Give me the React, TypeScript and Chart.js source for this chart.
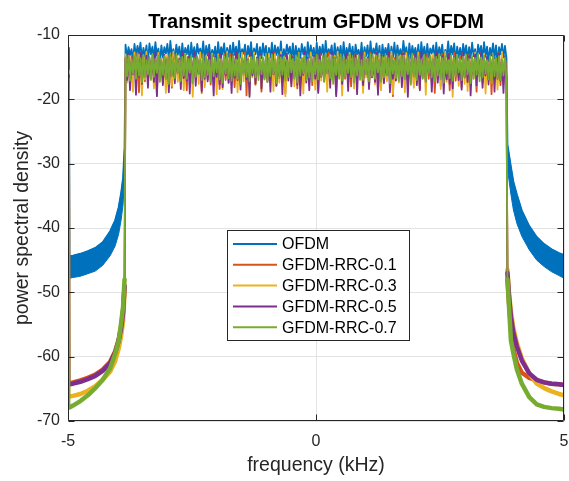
import { useEffect, useRef } from 'react';
import { Chart, registerables } from 'chart.js';

Chart.register(...registerables);

const FONT = '"Liberation Sans", Arial, Helvetica, sans-serif';
const AXIS_COLOR = '#262626';

const seriesNames = ['OFDM', 'GFDM-RRC-0.1', 'GFDM-RRC-0.3', 'GFDM-RRC-0.5', 'GFDM-RRC-0.7'];
const seriesColors = ['#0072BD', '#D95319', '#EDB120', '#7E2F8E', '#77AC30'];

const xTicks = [-5, 0, 5];
const yTicks = [-70, -60, -50, -40, -30, -20, -10];

// first FFT bin at the left edge of the spectrum (kHz) and its level per series (dB)
const edgeFreq = -4.98;
const edgeLevel = [-12.0, -15.8, -15.5, -16.2, -16.8];

// out-of-band frequencies (kHz)
const skirtFreqLeft = [-4.97, -4.9, -4.75, -4.6, -4.45, -4.3, -4.15, -4.05, -3.98, -3.93, -3.89, -3.86];
const skirtFreqRight = [3.86, 3.89, 3.93, 3.98, 4.05, 4.15, 4.3, 4.45, 4.6, 4.75, 4.9, 5.0];

// OFDM sidelobes: upper and lower envelope of the ripple (dB)
const ofdmHiLeft = [-44.4, -44.3, -44.0, -43.6, -43.1, -42.2, -40.5, -38.8, -36.8, -34.6, -32.2, -27.5];
const ofdmLoLeft = [-47.8, -47.7, -47.5, -47.1, -46.7, -45.8, -44.3, -42.8, -41.0, -38.8, -36.4, -32.0];
const ofdmHiRight = [-27.0, -28.5, -30.5, -32.8, -34.8, -37.3, -39.7, -41.4, -42.5, -43.3, -43.9, -44.2];
const ofdmLoRight = [-31.0, -32.5, -34.8, -37.2, -39.3, -41.3, -43.4, -45.0, -46.0, -46.8, -47.4, -47.8];

// GFDM out-of-band leakage (dB)
const rrc01Left = [-64.1, -64.0, -63.7, -63.3, -62.8, -62.0, -60.8, -59.2, -57.4, -55.4, -53.0, -49.0];
const rrc03Left = [-66.2, -66.1, -65.8, -65.3, -64.6, -63.6, -62.3, -60.7, -58.8, -56.8, -54.5, -50.0];
const rrc05Left = [-64.3, -64.2, -63.9, -63.5, -63.0, -62.2, -61.0, -59.4, -57.6, -55.6, -53.2, -49.0];
const rrc07Left = [-67.9, -67.6, -66.9, -66.0, -64.9, -63.6, -61.8, -59.6, -57.6, -54.8, -52.3, -48.0];
const rrc01Right = [-48.0, -51.5, -55.5, -58.8, -61.0, -62.5, -63.3, -63.7, -64.0, -64.2, -64.3, -64.4];
const rrc03Right = [-46.5, -50.0, -53.0, -55.6, -57.9, -60.3, -62.6, -64.2, -64.9, -65.4, -65.8, -66.0];
const rrc05Right = [-47.0, -50.5, -53.8, -56.3, -58.4, -60.6, -62.6, -63.6, -64.0, -64.2, -64.3, -64.4];
const rrc07Right = [-48.0, -52.0, -57.5, -59.5, -62.0, -64.2, -66.3, -67.4, -67.8, -68.0, -68.1, -68.2];

// occupied band edges (kHz); the bins inside are evenly spaced
const bandStart = -3.84;
const bandEnd = 3.84;

// in-band PSD per bin (dB)
const ofdmBand = [
  -11.5, -13.6, -11.9, -13.1, -12.2, -14.0, -11.4, -13.3, -11.7, -12.9, -11.2, -13.8, -12.0, -13.4, -11.6, -14.2,
  -11.3, -13.0, -11.8, -13.7, -11.1, -13.2, -12.1, -14.3, -11.6, -13.5, -11.9, -12.9, -11.4, -13.9, -10.9, -13.3,
  -12.2, -13.8, -11.5, -13.1, -11.8, -14.1, -11.3, -13.6, -12.0, -13.0, -11.6, -14.4, -11.2, -13.4, -11.9, -13.7,
  -11.4, -12.9, -12.1, -13.5, -11.0, -14.0, -11.7, -13.2, -11.5, -13.8, -12.3, -13.3, -11.8, -14.2, -11.1, -13.6,
  -11.9, -13.0, -11.3, -13.9, -12.0, -13.4, -11.6, -14.1, -11.2, -13.1, -11.8, -13.7, -10.9, -13.5, -12.2, -12.9,
  -11.5, -14.3, -11.7, -13.3, -11.1, -13.8, -12.1, -13.0, -11.4, -14.0, -11.9, -13.6, -11.3, -13.2, -11.7, -14.4,
  -12.0, -13.5, -11.2, -13.9, -11.6, -13.1, -11.9, -13.7, -11.0, -14.2, -12.2, -13.3, -11.5, -12.9, -11.8, -13.8,
  -11.3, -14.0, -11.7, -13.4, -12.1, -13.6, -11.4, -13.0, -11.9, -14.3, -11.1, -13.5, -11.6, -13.2, -12.0, -14.1,
  -11.2, -13.7, -11.8, -13.1, -11.5, -13.9, -10.9, -13.4, -12.2, -12.9, -11.6, -14.4, -11.3, -13.6, -11.9, -13.3,
  -11.7, -14.0, -11.1, -13.8, -12.0, -13.2, -11.4, -13.5, -11.8, -14.2, -11.5, -13.0, -12.3, -13.7, -11.2, -13.9,
  -11.9, -13.3, -11.6, -14.1, -11.0, -13.6, -12.1, -12.9, -11.3, -13.8, -11.7, -14.3, -11.5, -13.4, -12.0, -13.1,
  -11.4, -13.9, -11.8, -13.5, -11.2, -14.0, -11.6, -13.2, -12.2, -13.7, -10.9, -13.0, -11.9, -14.2, -11.3, -13.6,
  -11.7, -13.1, -12.0, -13.8, -11.5, -14.4, -11.1, -13.3, -11.8, -13.9, -11.4, -13.5, -12.1, -12.9, -11.6, -14.0,
  -11.2, -13.6, -11.9, -13.2, -11.5, -14.1, -12.3, -13.4, -11.0, -13.7, -11.7, -13.0, -11.3, -14.3, -11.8, -13.5,
  -12.0, -13.8, -11.4, -13.1, -11.6, -14.0, -11.9, -13.6, -11.2, -13.3, -12.2, -14.2, -11.5, -12.9, -11.7, -13.9,
  -11.1, -13.4, -11.8, -14.1, -12.0, -13.2, -11.3, -13.7, -11.6, -14.4, -11.9, -13.0, -11.4, -13.5, -11.7, -13.6,
];

const rrc01Band = [
  -13.6, -16.2, -14.1, -17.8, -13.2, -15.9, -13.9, -16.6, -12.8, -18.9, -14.3, -16.0, -13.4, -17.2, -13.7, -15.7,
  -14.0, -16.8, -13.1, -16.3, -13.8, -19.3, -12.9, -16.1, -14.2, -17.5, -13.5, -15.8, -13.3, -16.9, -14.4, -18.2,
  -13.0, -16.4, -13.6, -15.9, -14.1, -17.1, -12.7, -16.7, -13.9, -18.6, -13.4, -16.0, -14.3, -17.4, -13.2, -16.5,
  -13.8, -15.7, -13.0, -19.0, -14.0, -16.2, -13.5, -16.9, -12.8, -17.7, -13.7, -16.1, -14.2, -15.8, -13.3, -18.4,
  -13.9, -16.6, -13.1, -17.0, -14.4, -16.3, -12.9, -15.9, -13.6, -18.1, -14.0, -16.7, -13.2, -17.3, -13.8, -16.0,
  -12.7, -19.4, -13.5, -16.4, -14.1, -15.8, -13.3, -17.6, -13.9, -16.2, -13.0, -18.8, -14.3, -16.5, -13.6, -17.0,
  -13.4, -15.9, -14.2, -16.8, -12.8, -17.9, -13.7, -16.1, -13.1, -16.6, -14.0, -19.1, -13.5, -15.7, -13.9, -17.2,
  -13.2, -16.3, -14.4, -18.3, -13.0, -16.0, -13.6, -17.5, -12.9, -16.9, -13.8, -15.8, -14.1, -17.8, -13.3, -16.4,
  -13.7, -18.7, -13.1, -16.2, -14.3, -16.7, -13.5, -15.9, -12.7, -17.1, -14.0, -16.5, -13.4, -19.2, -13.9, -16.0,
  -13.0, -17.4, -13.8, -16.8, -14.2, -15.7, -13.2, -18.0, -13.6, -16.3, -12.9, -17.0, -14.1, -16.6, -13.5, -18.5,
  -13.3, -16.1, -13.9, -17.7, -12.8, -16.4, -14.4, -15.9, -13.1, -18.9, -13.7, -16.2, -14.0, -17.3, -13.4, -15.8,
  -13.8, -16.9, -13.0, -19.5, -13.6, -16.0, -14.2, -17.2, -13.2, -16.5, -12.7, -18.2, -13.9, -16.7, -14.3, -15.9,
  -13.5, -17.6, -13.1, -16.3, -14.0, -18.4, -13.4, -16.1, -13.7, -17.0, -12.9, -16.8, -14.1, -15.7, -13.3, -19.0,
  -13.9, -16.4, -13.6, -17.9, -13.0, -16.0, -14.4, -16.6, -13.2, -18.6, -13.8, -15.8, -12.8, -17.1, -14.2, -16.5,
  -13.4, -18.1, -13.7, -16.2, -14.0, -17.4, -13.1, -16.9, -13.5, -15.9, -14.3, -18.8, -13.3, -16.3, -12.9, -17.5,
  -13.8, -16.0, -14.1, -17.0, -13.2, -19.2, -13.6, -16.4, -14.0, -16.7, -12.8, -17.8, -13.9, -16.1, -13.5, -16.6,
];

const rrc03Band = [
  -13.0, -17.4, -13.8, -16.1, -14.2, -18.8, -12.7, -16.5, -13.5, -15.8, -14.0, -19.4, -13.2, -16.9, -12.6, -17.7,
  -13.9, -16.2, -13.3, -18.3, -14.3, -15.9, -12.8, -17.1, -13.6, -16.6, -14.1, -19.0, -13.1, -16.0, -13.7, -17.9,
  -12.6, -16.4, -14.4, -17.3, -13.4, -15.7, -13.9, -18.6, -12.9, -16.8, -13.5, -16.1, -14.0, -19.6, -13.2, -16.7,
  -13.8, -17.6, -12.7, -16.3, -14.2, -18.1, -13.3, -15.8, -13.6, -17.0, -12.9, -16.5, -14.1, -19.2, -13.0, -16.2,
  -13.7, -18.4, -13.4, -16.0, -12.6, -17.5, -14.3, -16.7, -13.1, -15.9, -13.9, -18.9, -13.5, -16.4, -12.8, -17.2,
  -14.0, -16.1, -13.2, -19.3, -13.7, -16.6, -12.7, -17.8, -14.4, -15.7, -13.3, -18.2, -13.6, -16.9, -14.1, -17.0,
  -12.9, -16.3, -13.8, -18.7, -13.0, -16.0, -14.2, -17.4, -12.6, -16.5, -13.5, -19.5, -13.9, -15.8, -13.1, -17.6,
  -13.4, -18.0, -14.0, -16.2, -12.8, -16.8, -13.7, -19.1, -13.3, -15.9, -14.3, -17.3, -12.7, -16.6, -13.6, -18.5,
  -14.1, -16.4, -13.0, -17.1, -13.8, -16.0, -12.9, -18.8, -13.5, -16.7, -14.2, -15.8, -13.2, -17.9, -12.6, -16.3,
  -13.9, -19.4, -13.4, -16.1, -14.4, -17.5, -12.8, -16.5, -13.7, -18.3, -13.1, -15.9, -14.0, -17.0, -13.3, -19.0,
  -12.7, -16.6, -13.6, -18.1, -14.1, -16.2, -13.0, -17.7, -13.8, -15.7, -12.9, -18.6, -14.3, -16.8, -13.4, -17.2,
  -13.5, -16.0, -12.6, -19.2, -13.9, -16.4, -14.2, -17.4, -13.2, -15.9, -13.7, -18.9, -12.8, -16.3, -14.0, -17.8,
  -13.1, -18.2, -13.8, -16.1, -12.7, -17.0, -14.4, -16.7, -13.3, -19.3, -13.6, -15.8, -14.1, -17.5, -12.9, -16.5,
  -13.9, -16.9, -13.0, -18.4, -13.5, -16.0, -12.6, -17.3, -14.2, -16.4, -13.4, -19.6, -13.7, -16.2, -13.1, -17.9,
  -14.0, -15.9, -12.8, -17.6, -13.6, -18.7, -13.2, -16.3, -14.3, -16.8, -12.7, -18.0, -13.8, -16.1, -13.3, -17.1,
  -12.9, -19.1, -14.1, -16.6, -13.4, -17.4, -13.0, -15.7, -13.7, -18.5, -14.2, -16.2, -12.6, -17.7, -13.5, -16.4,
];

const rrc05Band = [
  -13.7, -17.0, -12.9, -18.6, -14.2, -16.1, -13.4, -19.3, -13.9, -16.5, -12.8, -17.6, -14.4, -15.9, -13.2, -18.2,
  -13.6, -16.3, -14.0, -17.3, -12.7, -19.5, -13.5, -16.0, -14.1, -17.8, -13.1, -16.6, -13.8, -18.9, -12.9, -16.2,
  -14.3, -17.5, -13.3, -15.8, -13.7, -18.4, -12.6, -16.7, -14.0, -17.1, -13.4, -19.1, -13.9, -16.4, -12.8, -17.9,
  -13.5, -16.0, -14.2, -18.7, -13.0, -16.8, -13.8, -17.2, -12.7, -15.9, -14.4, -19.4, -13.3, -16.5, -13.6, -17.7,
  -12.9, -18.1, -14.1, -16.2, -13.4, -17.4, -13.9, -19.0, -13.1, -16.6, -12.6, -17.0, -14.3, -18.5, -13.7, -15.8,
  -13.2, -16.9, -13.8, -19.6, -12.8, -16.3, -14.0, -17.6, -13.5, -16.0, -13.0, -18.3, -14.2, -16.7, -13.3, -17.3,
  -13.9, -18.8, -12.7, -16.1, -14.4, -17.9, -13.6, -16.4, -13.1, -19.2, -13.8, -15.9, -12.9, -17.1, -14.1, -18.0,
  -13.4, -16.6, -13.7, -17.7, -13.0, -19.4, -14.3, -16.2, -12.6, -17.4, -13.5, -18.6, -14.0, -16.0, -13.2, -16.8,
  -13.8, -19.0, -12.8, -16.5, -14.2, -17.2, -13.3, -15.8, -13.9, -18.2, -12.7, -16.9, -13.6, -19.5, -14.4, -16.3,
  -13.1, -17.6, -13.7, -16.1, -12.9, -18.7, -14.1, -16.7, -13.4, -17.0, -13.0, -19.2, -13.8, -16.4, -12.6, -17.8,
  -14.0, -16.0, -13.5, -18.4, -13.2, -16.6, -14.3, -17.3, -12.8, -19.3, -13.9, -15.9, -13.3, -17.5, -14.2, -16.2,
  -12.7, -18.9, -13.6, -16.8, -14.0, -17.1, -13.1, -16.3, -13.8, -18.1, -12.9, -16.5, -14.4, -19.6, -13.4, -17.0,
  -13.7, -16.1, -13.0, -17.8, -14.1, -18.6, -12.6, -16.4, -13.5, -17.2, -14.2, -15.8, -13.2, -18.8, -13.9, -16.7,
  -12.8, -17.4, -14.3, -16.0, -13.3, -19.1, -13.7, -16.9, -12.9, -17.6, -14.0, -18.3, -13.4, -16.2, -13.6, -17.0,
  -14.1, -18.5, -12.7, -16.6, -13.8, -17.3, -13.2, -19.4, -14.4, -16.1, -13.0, -17.9, -13.5, -16.4, -12.8, -18.2,
  -13.9, -16.3, -13.4, -17.7, -14.2, -16.0, -13.1, -18.8, -13.6, -16.8, -12.9, -17.1, -14.0, -19.0, -13.3, -16.5,
];

const rrc07Band = [
  -13.5, -16.4, -13.2, -17.1, -13.8, -16.0, -13.3, -16.8, -12.9, -16.3, -13.6, -17.4, -13.1, -16.6, -13.9, -16.1,
  -13.4, -17.0, -13.0, -16.5, -13.7, -15.9, -13.2, -17.3, -13.8, -16.2, -13.3, -16.9, -13.6, -17.6, -12.9, -16.4,
  -13.5, -16.7, -13.1, -16.0, -13.9, -17.2, -13.4, -16.3, -13.0, -16.8, -13.7, -15.9, -13.2, -17.5, -13.6, -16.5,
  -13.3, -16.1, -13.8, -17.0, -13.0, -16.6, -13.5, -16.2, -13.9, -17.3, -13.1, -16.4, -13.6, -15.8, -13.2, -16.9,
  -13.7, -17.4, -13.4, -16.0, -12.9, -16.7, -13.5, -17.1, -13.3, -16.3, -13.8, -16.8, -13.0, -17.6, -13.6, -16.2,
  -13.2, -16.5, -13.9, -17.2, -13.4, -15.9, -13.1, -16.6, -13.7, -17.0, -13.3, -16.1, -13.5, -16.9, -12.9, -17.3,
  -13.6, -16.4, -13.0, -16.0, -13.8, -17.5, -13.2, -16.7, -13.5, -16.2, -13.4, -17.1, -13.9, -16.5, -13.1, -15.8,
  -13.7, -16.8, -13.3, -17.4, -13.0, -16.3, -13.6, -16.0, -13.2, -17.0, -13.8, -16.6, -13.4, -17.2, -13.5, -16.1,
  -13.1, -16.9, -13.9, -16.4, -13.3, -17.3, -12.9, -16.0, -13.6, -16.7, -13.2, -17.6, -13.7, -16.2, -13.4, -16.8,
  -13.0, -17.1, -13.5, -16.5, -13.8, -15.9, -13.1, -16.6, -13.4, -17.4, -13.6, -16.3, -13.2, -16.9, -13.9, -17.0,
  -13.3, -16.1, -13.7, -17.2, -13.0, -16.4, -13.5, -16.8, -13.2, -15.8, -13.8, -17.3, -13.4, -16.6, -13.1, -16.2,
  -13.6, -17.5, -13.3, -16.0, -13.9, -16.7, -13.0, -17.1, -13.5, -16.4, -13.2, -16.9, -13.7, -16.1, -13.4, -17.6,
  -12.9, -16.5, -13.6, -17.0, -13.3, -16.2, -13.8, -16.8, -13.1, -17.3, -13.5, -15.9, -13.2, -16.6, -13.7, -17.2,
  -13.4, -16.3, -13.0, -16.9, -13.6, -17.4, -13.3, -16.0, -13.9, -16.7, -13.1, -17.1, -13.5, -16.4, -13.2, -15.8,
  -13.8, -17.0, -13.4, -16.5, -13.1, -16.1, -13.7, -17.5, -13.3, -16.8, -13.6, -16.2, -13.0, -17.2, -13.5, -16.6,
  -13.2, -16.0, -13.9, -16.9, -13.4, -17.3, -13.1, -16.4, -13.6, -16.7, -13.3, -17.0, -13.8, -16.3, -13.5, -16.8,
];

type Pt = { x: number; y: number };

const pairs = (xs: number[], ys: number[]): Pt[] => xs.map((x, i) => ({ x, y: ys[i] }));

// evenly spaced bin centres across the occupied band
const bandBins = (n: number) => Array.from({ length: n }, (_, i) => bandStart + (i * (bandEnd - bandStart)) / (n - 1));

const trace = (edge: number, left: number[], band: number[], right: number[]): Pt[] => [
  { x: edgeFreq, y: edge },
  ...pairs(skirtFreqLeft, left),
  ...pairs(bandBins(band.length), band),
  ...pairs(skirtFreqRight, right),
];

const lineBase = {
  pointRadius: 0,
  tension: 0,
  fill: false,
  borderJoinStyle: 'round' as const,
  borderCapStyle: 'round' as const,
};

function buildDatasets() {
  const gfdm = [
    { left: rrc01Left, band: rrc01Band, right: rrc01Right },
    { left: rrc03Left, band: rrc03Band, right: rrc03Right },
    { left: rrc05Left, band: rrc05Band, right: rrc05Right },
    { left: rrc07Left, band: rrc07Band, right: rrc07Right },
  ];
  const c0 = seriesColors[0];
  const sets: any[] = [
    { ...lineBase, label: seriesNames[0], data: trace(edgeLevel[0], ofdmHiLeft, ofdmBand, ofdmHiRight), borderColor: c0, borderWidth: 1.8, order: 50 },
    { ...lineBase, label: '_ofdmHiL', data: pairs(skirtFreqLeft, ofdmHiLeft), borderColor: c0, borderWidth: 1, order: 50 },
    { ...lineBase, label: '_ofdmLoL', data: pairs(skirtFreqLeft, ofdmLoLeft), borderColor: c0, borderWidth: 1, backgroundColor: c0, fill: '-1', order: 50 },
    { ...lineBase, label: '_ofdmHiR', data: pairs(skirtFreqRight, ofdmHiRight), borderColor: c0, borderWidth: 1, order: 50 },
    { ...lineBase, label: '_ofdmLoR', data: pairs(skirtFreqRight, ofdmLoRight), borderColor: c0, borderWidth: 1, backgroundColor: c0, fill: '-1', order: 50 },
  ];
  gfdm.forEach((s, k) => {
    const i = k + 1;
    const color = seriesColors[i];
    const order = 40 - k * 10;
    sets.push({ ...lineBase, label: seriesNames[i], data: trace(edgeLevel[i], s.left, s.band, s.right), borderColor: color, borderWidth: 1.8, order });
    sets.push({ ...lineBase, label: '_skirtL' + i, data: pairs(skirtFreqLeft, s.left), borderColor: color, borderWidth: 4.5, order });
    sets.push({ ...lineBase, label: '_skirtR' + i, data: pairs(skirtFreqRight, s.right), borderColor: color, borderWidth: 4.5, order });
  });
  return sets;
}

// axes box, inward ticks, titles and the boxed legend
const decorations = {
  id: 'decorations',
  afterDatasetsDraw(chart: any) {
    const { ctx, chartArea: a, scales } = chart;
    const L = Math.round(a.left) + 0.5;
    const R = Math.round(a.right) - 0.5;
    const T = Math.round(a.top) + 0.5;
    const B = Math.round(a.bottom) - 0.5;
    const tick = 6;
    ctx.save();
    ctx.strokeStyle = AXIS_COLOR;
    ctx.lineWidth = 1;
    ctx.beginPath();
    ctx.rect(L, T, R - L, B - T);
    for (const v of yTicks) {
      const y = Math.round(scales.y.getPixelForValue(v)) + 0.5;
      ctx.moveTo(L, y);
      ctx.lineTo(L + tick, y);
      ctx.moveTo(R, y);
      ctx.lineTo(R - tick, y);
    }
    for (const v of xTicks) {
      const x = Math.round(scales.x.getPixelForValue(v)) + 0.5;
      ctx.moveTo(x, B);
      ctx.lineTo(x, B - tick);
      ctx.moveTo(x, T);
      ctx.lineTo(x, T + tick);
    }
    ctx.stroke();

    const cx = (a.left + a.right) / 2;
    const cy = (a.top + a.bottom) / 2;
    ctx.fillStyle = '#000';
    ctx.textAlign = 'center';
    ctx.textBaseline = 'alphabetic';
    ctx.font = `bold 20px ${FONT}`;
    ctx.fillText('Transmit spectrum GFDM vs OFDM', cx, 28);

    ctx.fillStyle = AXIS_COLOR;
    ctx.font = `19.5px ${FONT}`;
    ctx.fillText('frequency (kHz)', cx, 471);
    ctx.save();
    ctx.translate(28, cy);
    ctx.rotate(-Math.PI / 2);
    ctx.fillText('power spectral density', 0, 0);
    ctx.restore();

    // legend
    const bx = 227.5, by = 230.5, bw = 182, bh = 110;
    ctx.fillStyle = '#fff';
    ctx.fillRect(bx, by, bw, bh);
    ctx.strokeStyle = AXIS_COLOR;
    ctx.strokeRect(bx, by, bw, bh);
    ctx.font = `16px ${FONT}`;
    ctx.textAlign = 'left';
    ctx.textBaseline = 'middle';
    seriesNames.forEach((name, i) => {
      const y = 244 + i * 20.8;
      ctx.strokeStyle = seriesColors[i];
      ctx.lineWidth = 2;
      ctx.beginPath();
      ctx.moveTo(233, y);
      ctx.lineTo(277, y);
      ctx.stroke();
      ctx.fillStyle = '#000';
      ctx.fillText(name, 282, y + 1);
    });
    ctx.restore();
  },
};

export default function App() {
  const ref = useRef<HTMLCanvasElement | null>(null);

  useEffect(() => {
    if (!ref.current) return;
    const chart = new Chart(ref.current, {
      type: 'line',
      data: { datasets: buildDatasets() },
      options: {
        animation: false,
        responsive: false,
        devicePixelRatio: 1,
        events: [],
        layout: { padding: { top: 35, right: 5, left: 0, bottom: 0 } },
        plugins: {
          legend: { display: false },
          tooltip: { enabled: false },
          title: { display: false },
        },
        scales: {
          x: {
            type: 'linear',
            min: -5,
            max: 5,
            afterFit: (s: any) => {
              s.height = 60;
              s.paddingLeft = 0;
              s.paddingRight = 0;
            },
            afterBuildTicks: (s: any) => { s.ticks = xTicks.map((value) => ({ value })); },
            grid: { color: '#e3e3e3', drawTicks: false },
            border: { display: false },
            ticks: { color: AXIS_COLOR, font: { family: FONT, size: 16 }, padding: 11, maxRotation: 0, autoSkip: false },
          },
          y: {
            type: 'linear',
            min: -70,
            max: -10,
            afterFit: (s: any) => {
              s.width = 68;
              s.paddingTop = 0;
              s.paddingBottom = 0;
            },
            afterBuildTicks: (s: any) => { s.ticks = yTicks.map((value) => ({ value })); },
            grid: { color: '#e3e3e3', drawTicks: false },
            border: { display: false },
            ticks: { color: AXIS_COLOR, font: { family: FONT, size: 16 }, padding: 8, autoSkip: false },
          },
        },
      },
      plugins: [decorations],
    });
    return () => chart.destroy();
  }, []);

  return (
    <div style={{ position: 'absolute', left: 0, top: 0, width: 569, height: 481, background: '#fff' }}>
      <canvas ref={ref} width={569} height={481} style={{ display: 'block' }} />
    </div>
  );
}
